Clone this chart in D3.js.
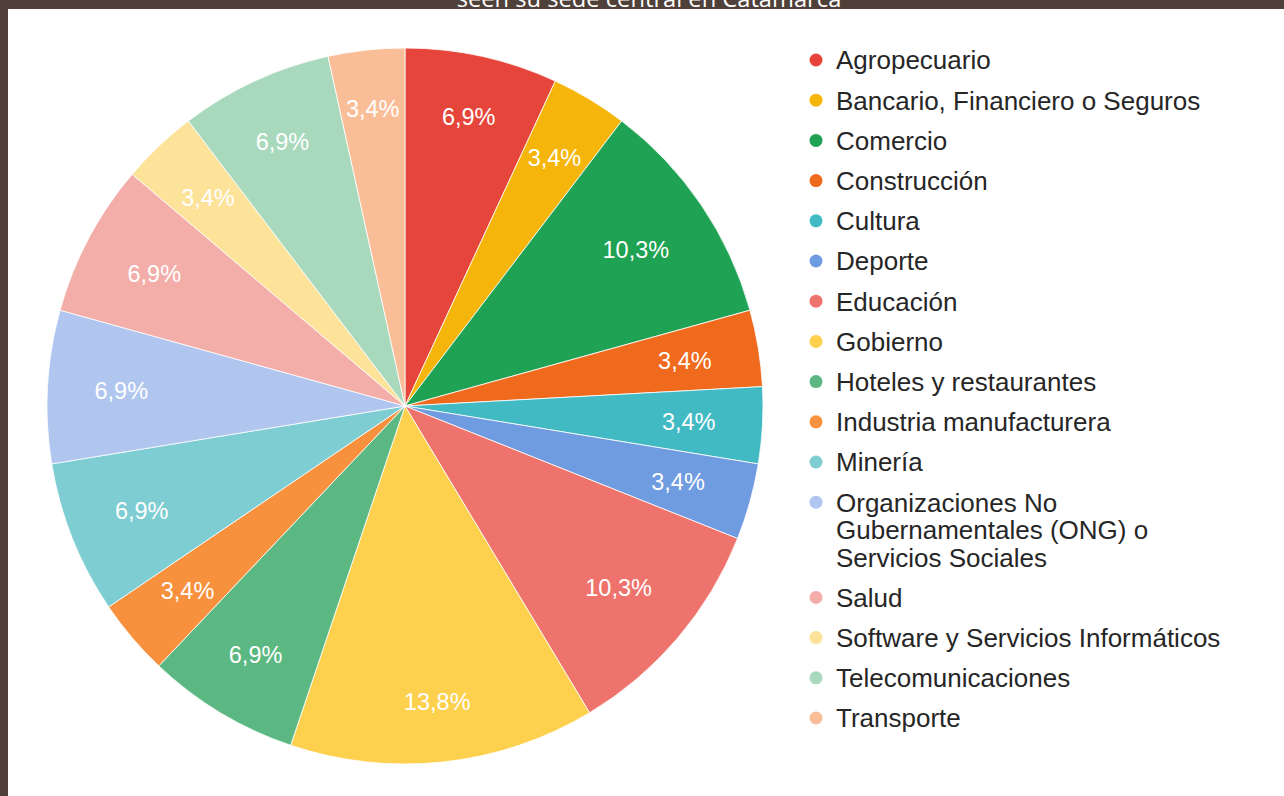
<!DOCTYPE html>
<html>
<head>
<meta charset="utf-8">
<script src="https://cdn.jsdelivr.net/npm/d3@7"></script>
<style>
  html, body { margin: 0; padding: 0; background: #4f4139; }
  svg { display: block; }
</style>
</head>
<body>
<svg id="chart" width="1284" height="796"></svg>
<script>
// Organisations per sector (counts)
const categories = [
  "Agropecuario",
  "Bancario, Financiero o Seguros",
  "Comercio",
  "Construcción",
  "Cultura",
  "Deporte",
  "Educación",
  "Gobierno",
  "Hoteles y restaurantes",
  "Industria manufacturera",
  "Minería",
  "Organizaciones No Gubernamentales (ONG) o Servicios Sociales",
  "Salud",
  "Software y Servicios Informáticos",
  "Telecomunicaciones",
  "Transporte"
];
const counts = [2, 1, 3, 1, 1, 1, 3, 4, 2, 1, 2, 2, 2, 1, 2, 1];
const colors = [
  "#e5453a", "#f5b50a", "#1fa253", "#ef6a1c", "#42bac4", "#6f9be0",
  "#ee736c", "#fdd04e", "#5cb883", "#f7913d", "#7dcdd3", "#b0c6ef",
  "#f3aeaa", "#fde29a", "#a9d9bd", "#f9be97"
];
const titleText = "seen su sede central en Catamarca";

const W = 1284, H = 796;
const svg = d3.select("#chart");
const font = "'Liberation Sans', Arial, Helvetica, sans-serif";

// frame
svg.append("rect").attr("width", W).attr("height", H).attr("fill", "#4f4139");
svg.append("rect").attr("x", 8).attr("y", 9).attr("width", W - 8).attr("height", H - 9).attr("fill", "#ffffff");

svg.append("text")
  .attr("x", 649).attr("y", 6.5)
  .attr("text-anchor", "middle")
  .attr("fill", "#ffffff")
  .style("font-family", "'Open Sans', 'Noto Sans', sans-serif")
  .style("font-size", "23.7px")
  .text(titleText);

// pie
const cx = 405, cy = 406, R = 358;
const total = d3.sum(counts);
const data = categories.map((c, i) => ({ name: c, value: counts[i], color: colors[i] }));
const pie = d3.pie().sort(null).value(d => d.value).startAngle(0).endAngle(2 * Math.PI);
const arc = d3.arc().innerRadius(0).outerRadius(R);
const arcs = pie(data);

const g = svg.append("g").attr("transform", `translate(${cx},${cy})`);
g.selectAll("path.slice").data(arcs).join("path")
  .attr("class", "slice")
  .attr("d", arc)
  .attr("fill", d => d.data.color)
  .attr("stroke", "#ffffff")
  .attr("stroke-width", 0.8);

const fmt = v => (Math.round(v * 1000) / 10).toFixed(1).replace(".", ",") + "%";
const labelSize = 23.5;
const D = R * 0.87; // farthest corner of a label box from the centre

const labels = g.selectAll("text.pct").data(arcs).join("text")
  .attr("class", "pct")
  .attr("text-anchor", "middle")
  .attr("dy", "0.36em")
  .attr("fill", "#ffffff")
  .style("font-family", font)
  .style("font-size", labelSize + "px")
  .text(d => fmt(d.data.value / total));

labels.each(function(d) {
  const w = this.getComputedTextLength() / 2;
  const h = labelSize * 0.36;
  const a = (d.startAngle + d.endAngle) / 2;
  const s = Math.abs(Math.sin(a)), c = Math.abs(Math.cos(a));
  const b = w * s + h * c;
  const rho = -b + Math.sqrt(b * b - (w * w + h * h - D * D));
  d3.select(this)
    .attr("x", rho * Math.sin(a))
    .attr("y", -rho * Math.cos(a));
});

// legend
const lx = 816, tx = 836;
const rowPitch = 40.2, linePitch = 27.5;
const legendSize = 26;
const legend = svg.append("g");
let y = 60;
data.forEach(d => {
  const item = legend.append("g");
  item.append("circle").attr("cx", lx).attr("cy", y).attr("r", 6.5).attr("fill", d.color);
  const t = item.append("text")
    .attr("x", tx).attr("y", y).attr("dy", "0.36em")
    .attr("fill", "#262626")
    .style("font-family", font)
    .style("font-size", legendSize + "px")
    .text(d.name);
  let lines = 1;
  if (t.node().getComputedTextLength() > 440) {
    const words = d.name.split(" ");
    t.text(null);
    let line = [];
    let ts = t.append("tspan").attr("x", tx).attr("y", y).attr("dy", "0.36em");
    words.forEach(wd => {
      line.push(wd);
      ts.text(line.join(" "));
      if (ts.node().getComputedTextLength() > 340 && line.length > 1) {
        line.pop();
        ts.text(line.join(" "));
        line = [wd];
        ts = t.append("tspan").attr("x", tx).attr("y", y + lines * linePitch).attr("dy", "0.36em").text(wd);
        lines++;
      }
    });
  }
  y += rowPitch + (lines - 1) * linePitch;
});
</script>
</body>
</html>
